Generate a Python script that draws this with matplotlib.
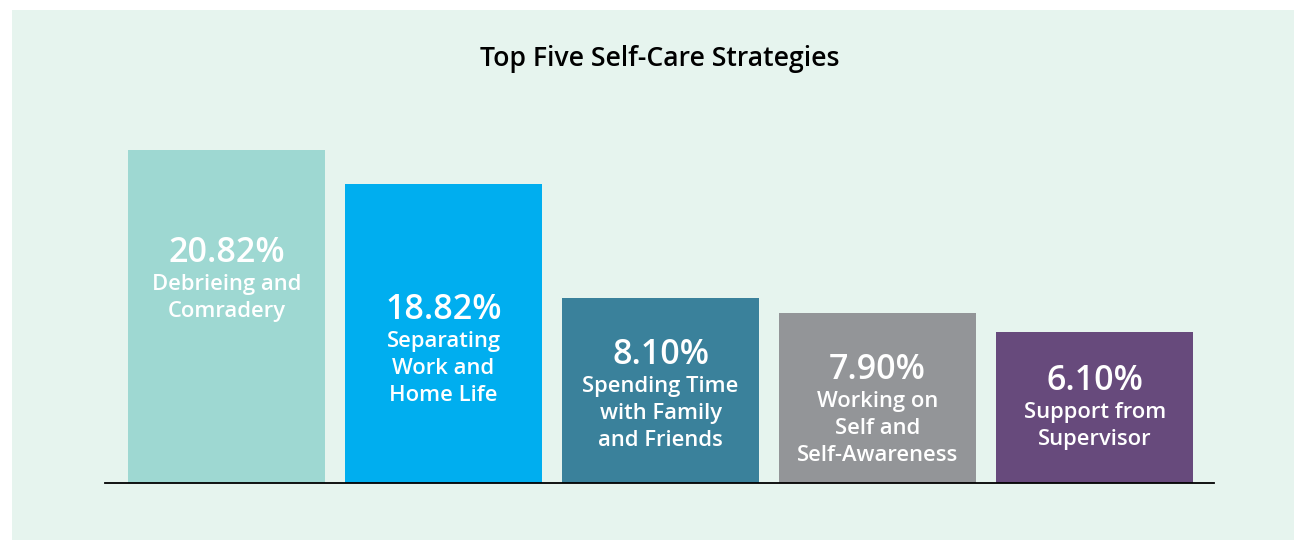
import matplotlib.pyplot as plt
from matplotlib.patches import Rectangle

# values
strategies = ['Debrieing and\nComradery',
              'Separating\nWork and\nHome Life',
              'Spending Time\nwith Family\nand Friends',
              'Working on\nSelf and\nSelf-Awareness',
              'Support from\nSupervisor']
percents = [20.82, 18.82, 8.10, 7.90, 6.10]
# drawn bar heights (the original bars are not drawn to scale)
bar_heights = [333, 299, 185, 170, 151]

colors = ['#9ED8D2', '#00AEEF', '#3A819B', '#939598', '#674A7C']
# where the percentage sits above the baseline, per bar
pct_y = [230, 173, 128, 113, 102]

plt.rcParams['font.family'] = ['Open Sans', 'DejaVu Sans']

fig = plt.figure(figsize=(12.94, 5.4), dpi=100)
fig.patch.set_facecolor('white')
fig.patches.append(Rectangle((12 / 1294, 0), 1, 530 / 540, transform=fig.transFigure,
                             facecolor='#E6F4EE', edgecolor='none', zorder=-5))

ax = fig.add_axes([105 / 1294, 57 / 540, 1109 / 1294, 383 / 540])
ax.set_facecolor('none')

x = range(len(percents))
ax.bar(x, bar_heights, width=0.91, color=colors, zorder=2)

for i, (p, lab) in enumerate(zip(percents, strategies)):
    ax.text(i, pct_y[i], f'{p:.2f}%', ha='center', va='center', color='white',
            fontsize=24.5, fontweight='semibold', zorder=3)
    ax.text(i, pct_y[i] - 21, lab, ha='center', va='top', color='white',
            fontsize=15.8, fontweight='semibold', linespacing=1.38, zorder=3)

ax.set_xlim(-0.56, 4.55)
ax.set_ylim(0, 383)
for s in ['top', 'right', 'left']:
    ax.spines[s].set_visible(False)
ax.spines['bottom'].set_color('black')
ax.spines['bottom'].set_linewidth(1.3)
ax.spines['bottom'].set_zorder(4)
ax.set_xticks([])
ax.set_yticks([])

fig.text(660 / 1294, 1 - 59 / 540, 'Top Five Self-Care Strategies', ha='center', va='center',
         fontsize=19.2, fontweight='semibold', color='black')

fig.savefig('out.png', dpi=100)
